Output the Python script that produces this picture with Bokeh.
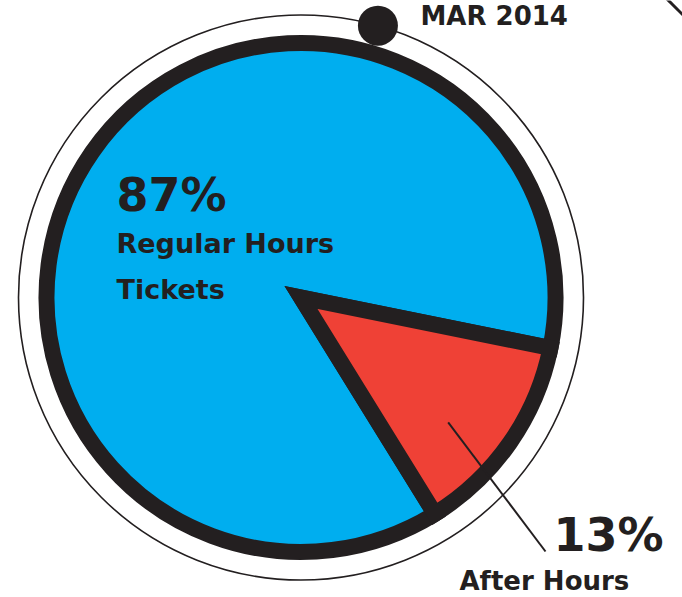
import math
from bokeh.plotting import figure
from bokeh.models import Range1d, ColumnDataSource
from bokeh.core.properties import value
from bokeh.embed import file_html
from bokeh.resources import INLINE

# ---- data ----
categories = ["Regular Hours Tickets", "After Hours"]
shares = [87, 13]
slice_colors = ["#00AEEF", "#EF4136"]
pct_labels = ["87%", "13%"]
name_lines_regular = ["Regular Hours", "Tickets"]
name_lines_after = ["After Hours"]
date_label = "MAR 2014"

# ---- layout / style ----
W, H = 682, 597
INK = "#231F20"
cx, cy = 300.5, H - 297.0          # pie centre (data coords, y up)
R_PIE = 254.5                       # radius of stroke centre
RING = 282.5                        # thin outer ring
START = math.radians(-58.25)        # where the small slice starts (anticlockwise)

def sy(y):  # screen y -> data y
    return H - y

p = figure(width=W, height=H, output_backend="svg", toolbar_location=None,
           x_range=Range1d(0, W), y_range=Range1d(0, H), min_border=0,
           background_fill_color="white", border_fill_color="white")
p.axis.visible = False
p.grid.visible = False
p.outline_line_color = None

# thin outer ring
p.circle(x=[cx], y=[cy], radius=RING, fill_color=None, line_color=INK, line_width=1.6)

# pie wedges from data
total = float(sum(shares))
s_aft = START
e_aft = START + 2 * math.pi * shares[1] / total
s_reg = e_aft
e_reg = s_reg + 2 * math.pi * shares[0] / total
src = ColumnDataSource(dict(
    x=[cx, cx], y=[cy, cy],
    start=[s_reg, s_aft], end=[e_reg, e_aft],
    color=slice_colors, cat=categories))
p.wedge(x="x", y="y", radius=R_PIE, start_angle="start", end_angle="end",
        direction="anticlock", fill_color="color", line_color=INK,
        line_width=16, line_join="miter", source=src)

# dot on the ring
dot_ang = math.radians(74.2)
p.circle(x=[cx + RING * math.cos(dot_ang)], y=[cy + RING * math.sin(dot_ang)],
         radius=20, fill_color=INK, line_color=None)

# leader line for the small slice
lead_ang = math.radians(-40.3)
lx0, ly0 = cx + 193 * math.cos(lead_ang), cy + 193 * math.sin(lead_ang)
p.line(x=[lx0, 545], y=[ly0, sy(551)], line_color=INK, line_width=2)

# decorative diagonal at the top-right corner
p.line(x=[662, 695], y=[sy(-6), sy(27)], line_color=INK, line_width=3)

font = value("DejaVu Sans")
def txt(x, y, t, size, style="bold"):
    # y is the wanted baseline in screen pixels; compensate renderer offset
    p.text(x=[x], y=[sy(y - 0.39 * size)], text=[t], text_font=font,
           text_font_size=f"{size}px", text_font_style=style, text_color=INK,
           text_baseline="alphabetic", text_align="left")

txt(420, 26, date_label, 26)
txt(116, 212, pct_labels[0], 46)
txt(116, 254, name_lines_regular[0], 27)
txt(116, 300, name_lines_regular[1], 27)
txt(553, 552, pct_labels[1], 46)
txt(459, 591, name_lines_after[0], 26)

open("out.html", "w").write(file_html(p, INLINE))
